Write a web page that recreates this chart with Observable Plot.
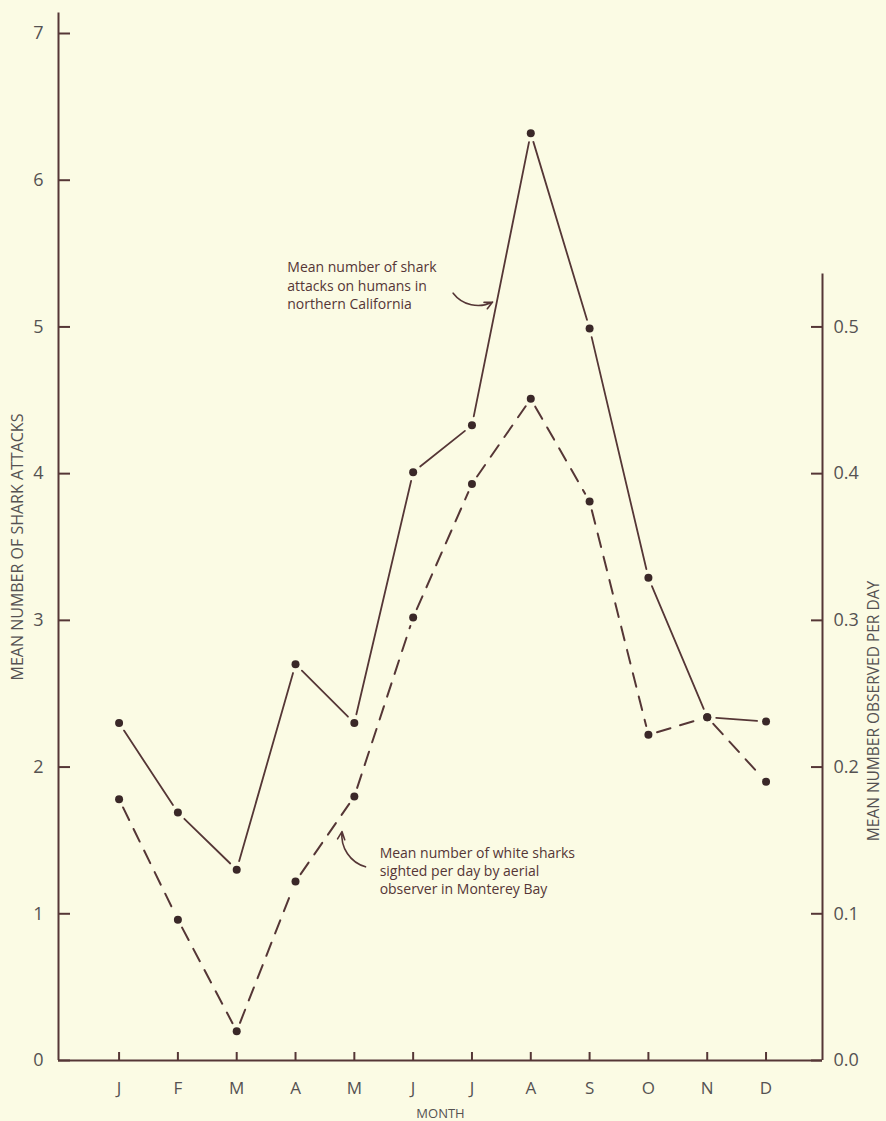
<!DOCTYPE html>
<html>
<head>
<meta charset="utf-8">
<script src="https://cdn.jsdelivr.net/npm/d3@7"></script>
<script src="https://cdn.jsdelivr.net/npm/@observablehq/plot@0.6"></script>
<style>
  html, body { margin: 0; padding: 0; background: #fbfbe4; }
  #chart svg { display: block; }
</style>
</head>
<body>
<div id="chart"></div>
<script>
// ---- data ----
const months = ["J", "F", "M", "A", "M", "J", "J", "A", "S", "O", "N", "D"];
// Mean number of shark attacks on humans in northern California (left axis)
const attacks = [2.30, 1.69, 1.30, 2.70, 2.30, 4.01, 4.33, 6.32, 4.99, 3.29, 2.34, 2.31];
// Mean number of white sharks sighted per day by aerial observer (right axis)
const sightings = [0.178, 0.096, 0.020, 0.122, 0.180, 0.302, 0.393, 0.451, 0.381, 0.222, 0.234, 0.190];
const leftTicks = [0, 1, 2, 3, 4, 5, 6, 7];
const rightTicks = [0.0, 0.1, 0.2, 0.3, 0.4, 0.5];
const RATIO = 10; // 0.1 on right axis == 1 on left axis

const leftTitle = "MEAN NUMBER OF SHARK ATTACKS";
const rightTitle = "MEAN NUMBER OBSERVED PER DAY";
const xTitle = "MONTH";

const annotations = [
  {i: 2.86, v: 5.46, text: "Mean number of shark\nattacks on humans in\nnorthern California"},
  {i: 4.43, v: 1.47, text: "Mean number of white sharks\nsighted per day by aerial\nobserver in Monterey Bay"}
];
const pointer1 = [{x1: 5.68, y1: 5.23, x2: 6.35, y2: 5.17}];
const pointer2 = [{x1: 4.19, y1: 1.32, x2: 3.79, y2: 1.56}];

// ---- layout ----
const W = 886, H = 1121;
const mL = 58, mR = 64, mT = 33, mB = 61;
const plotW = W - mL - mR, plotH = H - mT - mB;
const xDomain = [-1.03, 11.96];
const yDomain = [0, 7];

const ink = "#553636";
const dotInk = "#3a2828";
const textInk = "#555252";
const titleFont = "'Open Sans', sans-serif";

const idx = months.map((m, i) => i);
const attackPts = idx.map(i => ({i, v: attacks[i]}));
const sightPts = idx.map(i => ({i, v: sightings[i] * RATIO}));
const seg = pts => pts.slice(1).map((p, k) => ({x1: pts[k].i, y1: pts[k].v, x2: p.i, y2: p.v}));

const chart = Plot.plot({
  width: W, height: H,
  marginLeft: mL, marginRight: mR, marginTop: mT, marginBottom: mB,
  style: {background: "transparent", fontFamily: "'Open Sans', sans-serif", color: textInk, overflow: "visible"},
  x: {domain: xDomain},
  y: {domain: yDomain},
  marks: [
    // axis lines
    Plot.ruleX([xDomain[0]], {y1: 0, y2: 7.14, stroke: ink, strokeWidth: 2}),
    Plot.ruleX([xDomain[1]], {y1: 0, y2: 5.36, stroke: ink, strokeWidth: 2}),
    Plot.ruleY([0], {stroke: ink, strokeWidth: 2.2}),
    // inward ticks
    Plot.tickY(leftTicks, {y: d => d, insetRight: plotW - 12, stroke: ink, strokeWidth: 2}),
    Plot.tickY(rightTicks, {y: d => d * RATIO, insetLeft: plotW - 11, stroke: ink, strokeWidth: 2}),
    Plot.tickX(idx, {x: d => d, insetTop: plotH - 8, stroke: ink, strokeWidth: 2}),
    // tick labels
    Plot.axisY({anchor: "left", ticks: leftTicks, tickFormat: d => String(d), tickSize: 0, tickPadding: 15, fontSize: 18, label: null}),
    Plot.axisY({anchor: "right", ticks: rightTicks.map(v => v * RATIO), tickFormat: d => (d / RATIO).toFixed(1), tickSize: 0, tickPadding: 11, fontSize: 18, label: null}),
    Plot.axisX({ticks: idx, tickFormat: i => months[i], tickSize: 0, tickPadding: 21, fontSize: 17, label: null}),
    // axis titles
    Plot.text([leftTitle], {text: d => d, frameAnchor: "left", textAnchor: "middle", rotate: -90, dx: -41, fontSize: 16, fontFamily: titleFont, fill: textInk}),
    Plot.text([rightTitle], {text: d => d, frameAnchor: "right", textAnchor: "middle", rotate: -90, dx: 52, dy: 164, fontSize: 15.5, fontFamily: titleFont, fill: textInk}),
    Plot.text([xTitle], {text: d => d, frameAnchor: "bottom", dy: 57, fontSize: 13, fontFamily: titleFont, fill: textInk}),
    // series
    Plot.arrow(seg(attackPts), {x1: "x1", y1: "y1", x2: "x2", y2: "y2", headLength: 0, inset: 9, stroke: ink, strokeWidth: 1.8}),
    Plot.arrow(seg(sightPts), {x1: "x1", y1: "y1", x2: "x2", y2: "y2", headLength: 0, inset: 9, stroke: ink, strokeWidth: 2, strokeDasharray: "14,10"}),
    Plot.dot(attackPts, {x: "i", y: "v", r: 4, fill: dotInk}),
    Plot.dot(sightPts, {x: "i", y: "v", r: 4, fill: dotInk}),
    // annotations
    Plot.text(annotations, {x: "i", y: "v", text: "text", textAnchor: "start", lineAnchor: "top", lineHeight: 1.3, fontSize: 14, fill: ink}),
    Plot.arrow(pointer1, {x1: "x1", y1: "y1", x2: "x2", y2: "y2", bend: -40, headLength: 8, headAngle: 50, stroke: ink, strokeWidth: 1.6}),
    Plot.arrow(pointer2, {x1: "x1", y1: "y1", x2: "x2", y2: "y2", bend: 40, headLength: 8, headAngle: 50, stroke: ink, strokeWidth: 1.6})
  ]
});
document.getElementById("chart").appendChild(chart);
</script>
</body>
</html>
